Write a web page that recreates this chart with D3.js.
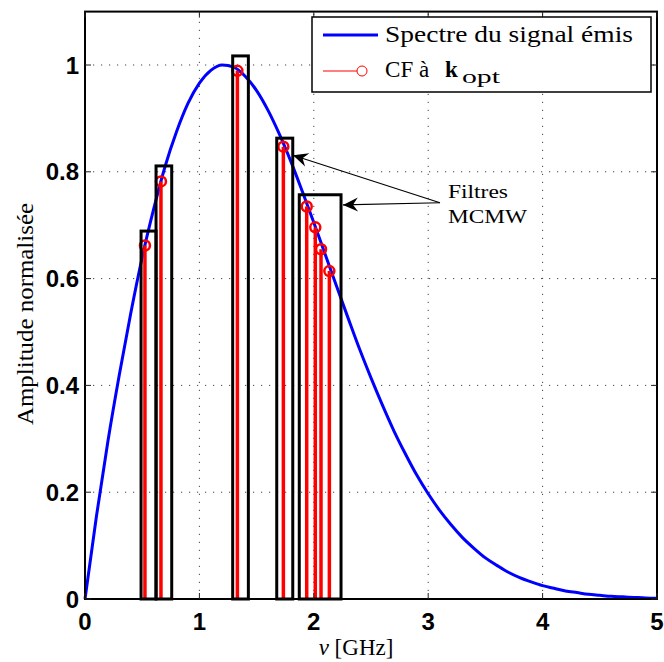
<!DOCTYPE html>
<html><head><meta charset="utf-8">
<script src="https://cdn.jsdelivr.net/npm/d3@7"></script>
<style>body{margin:0;background:#fff}</style>
</head><body><svg id="c" width="664" height="662"></svg>
<script>
// Spectrum of emitted signal (GHz, normalised amplitude)
const freq = [0,0.1,0.2,0.3,0.4,0.5,0.6,0.7,0.8,0.9,1.0,1.1,1.2,1.3,1.4,1.5,1.6,1.7,1.8,1.9,2.0,2.1,2.2,2.3,2.4,2.5,2.6,2.7,2.8,2.9,3.0,3.1,3.2,3.3,3.4,3.5,3.6,3.7,3.8,3.9,4.0,4.1,4.2,4.3,4.4,4.5,4.6,4.7,4.8,4.9,5.0];
const amplitude = [0,0.155,0.295,0.420,0.535,0.640,0.730,0.810,0.875,0.928,0.966,0.990,1.000,0.996,0.979,0.952,0.915,0.870,0.819,0.763,0.705,0.645,0.585,0.526,0.468,0.414,0.363,0.315,0.272,0.232,0.197,0.166,0.139,0.115,0.095,0.077,0.063,0.050,0.040,0.032,0.025,0.020,0.015,0.012,0.009,0.007,0.005,0.004,0.003,0.002,0.0015];
// CF at k_opt (stems)
const stemFreq = [0.524,0.664,1.332,1.734,1.938,2.013,2.063,2.136];
const stemAmp  = [0.662,0.782,0.989,0.847,0.735,0.696,0.655,0.614];
// MCMW filters (rectangles)
const filterStart  = [0.490,0.621,1.291,1.676,1.873];
const filterEnd    = [0.621,0.758,1.428,1.816,2.238];
const filterHeight = [0.689,0.811,1.017,0.863,0.757];
// ticks
const xTicks = [0,1,2,3,4,5];
const xTickLabels = ["0","1","2","3","4","5"];
const yTicks = [0,0.2,0.4,0.6,0.8,1];
const yTickLabels = ["0","0.2","0.4","0.6","0.8","1"];
const legendLabels = ["Spectre du signal émis","CF à "];
const annotationLines = ["Filtres","MCMW"];
const arrowFrom = [3.103,0.742];
const arrowTipFreq = [1.818,2.255];
const arrowTipAmp  = [0.831,0.738];

const svg = d3.select("#c");
const x = d3.scaleLinear().domain([0,5]).range([85,657]);
const y = d3.scaleLinear().domain([0,1.1]).range([599,11.6]);
const serif = "'Liberation Serif', 'Times New Roman', serif";
const sans = "'Liberation Sans', Arial, Helvetica, sans-serif";

// grid
const grid = svg.append("g").attr("stroke","#444").attr("stroke-width",1).attr("stroke-dasharray","1.2,6.8");
xTicks.slice(1,-1).forEach(t=>grid.append("line").attr("x1",x(t)).attr("x2",x(t)).attr("y1",y(0)).attr("y2",y(1.1)));
yTicks.slice(1).forEach(t=>grid.append("line").attr("x1",x(0)).attr("x2",x(5)).attr("y1",y(t)).attr("y2",y(t)));

// curve
svg.append("path").datum(freq.map((f,i)=>[f,amplitude[i]]))
  .attr("d", d3.line().x(d=>x(d[0])).y(d=>y(d[1])).curve(d3.curveMonotoneX))
  .attr("fill","none").attr("stroke","#0000ff").attr("stroke-width",3);

// stems
const stems = svg.append("g");
stemFreq.forEach((f,i)=>{
  stems.append("line").attr("x1",x(f)).attr("x2",x(f)).attr("y1",y(0)).attr("y2",y(stemAmp[i]))
    .attr("stroke","#ff0000").attr("stroke-width",3.5);
});
stemFreq.forEach((f,i)=>{
  stems.append("circle").attr("cx",x(f)).attr("cy",y(stemAmp[i])).attr("r",5)
    .attr("fill","none").attr("stroke","#ff0000").attr("stroke-width",2.5);
});

// filters
filterStart.forEach((s,i)=>{
  svg.append("rect").attr("x",x(s)).attr("y",y(filterHeight[i]))
    .attr("width",x(filterEnd[i])-x(s)).attr("height",y(0)-y(filterHeight[i]))
    .attr("fill","none").attr("stroke","#000").attr("stroke-width",3);
});

// axes box
const ax = svg.append("g");
ax.append("rect").attr("x",x(0)).attr("y",y(1.1)).attr("width",x(5)-x(0)).attr("height",y(0)-y(1.1))
  .attr("fill","none").attr("stroke","#000").attr("stroke-width",2);
const tk = svg.append("g").attr("stroke","#222").attr("stroke-width",1);
xTicks.forEach(t=>{
  tk.append("line").attr("x1",x(t)).attr("x2",x(t)).attr("y1",y(0)).attr("y2",y(0)-6);
  tk.append("line").attr("x1",x(t)).attr("x2",x(t)).attr("y1",y(1.1)).attr("y2",y(1.1)+6);
});
yTicks.forEach(t=>{
  tk.append("line").attr("x1",x(0)).attr("x2",x(0)+6).attr("y1",y(t)).attr("y2",y(t));
  tk.append("line").attr("x1",x(5)).attr("x2",x(5)-6).attr("y1",y(t)).attr("y2",y(t));
});
xTicks.forEach((t,i)=>svg.append("text").attr("x",x(t)).attr("y",y(0)+31).attr("text-anchor","middle")
  .attr("font-family",sans).attr("font-weight","bold").attr("font-size",24).text(xTickLabels[i]));
yTicks.forEach((t,i)=>svg.append("text").attr("x",x(0)-6).attr("y",y(t)+8.5).attr("text-anchor","end")
  .attr("font-family",sans).attr("font-weight","bold").attr("font-size",24).text(yTickLabels[i]));

// axis labels
const xl = svg.append("text").attr("x",356).attr("y",655).attr("text-anchor","middle")
  .attr("font-family",serif).attr("font-size",23);
xl.append("tspan").attr("font-style","italic").text("ν");
xl.append("tspan").text(" [GHz]");
svg.append("text").attr("transform","translate(33,314) rotate(-90)").attr("text-anchor","middle")
  .attr("font-family",serif).attr("font-size",23).attr("textLength",222).attr("lengthAdjust","spacingAndGlyphs")
  .text("Amplitude normalisée");

// legend
const lg = svg.append("g");
lg.append("rect").attr("x",312).attr("y",17).attr("width",339).attr("height",75)
  .attr("fill","#fff").attr("stroke","#000").attr("stroke-width",1.5);
lg.append("line").attr("x1",323).attr("x2",378).attr("y1",35).attr("y2",35).attr("stroke","#0000ff").attr("stroke-width",3);
lg.append("text").attr("x",385).attr("y",42).attr("font-family",serif).attr("font-size",23)
  .attr("textLength",248).attr("lengthAdjust","spacingAndGlyphs").text(legendLabels[0]);
lg.append("line").attr("x1",323).attr("x2",357).attr("y1",71).attr("y2",71).attr("stroke","#ff0000").attr("stroke-width",1);
lg.append("circle").attr("cx",362).attr("cy",71).attr("r",5).attr("fill","none").attr("stroke","#ff0000").attr("stroke-width",1);
const t2 = lg.append("text").attr("y",77).attr("font-family",serif).attr("font-size",23);
t2.append("tspan").attr("x",385).attr("textLength",50).attr("lengthAdjust","spacingAndGlyphs").text(legendLabels[1]);
t2.append("tspan").attr("x",445).attr("font-weight","bold").text("k");
t2.append("tspan").attr("x",462).attr("y",83).attr("font-size",19).attr("textLength",38).attr("lengthAdjust","spacingAndGlyphs").text("opt");

// annotation
annotationLines.forEach((s,i)=>svg.append("text").attr("x",448).attr("y",198+25*i)
  .attr("font-family",serif).attr("font-size",19).attr("textLength",[60,79][i]).attr("lengthAdjust","spacingAndGlyphs").text(s));
const fx = x(arrowFrom[0]), fy = y(arrowFrom[1]);
arrowTipFreq.forEach((f,i)=>{
  const tx = x(f), ty = y(arrowTipAmp[i]);
  const ang = Math.atan2(ty-fy, tx-fx)*180/Math.PI;
  svg.append("line").attr("x1",fx).attr("y1",fy).attr("x2",tx).attr("y2",ty).attr("stroke","#000").attr("stroke-width",1.2);
  svg.append("path").attr("d","M0,0 L-15,-7 L-10,0 L-15,7 Z").attr("fill","#000")
    .attr("transform",`translate(${tx},${ty}) rotate(${ang})`);
});
</script></body></html>
